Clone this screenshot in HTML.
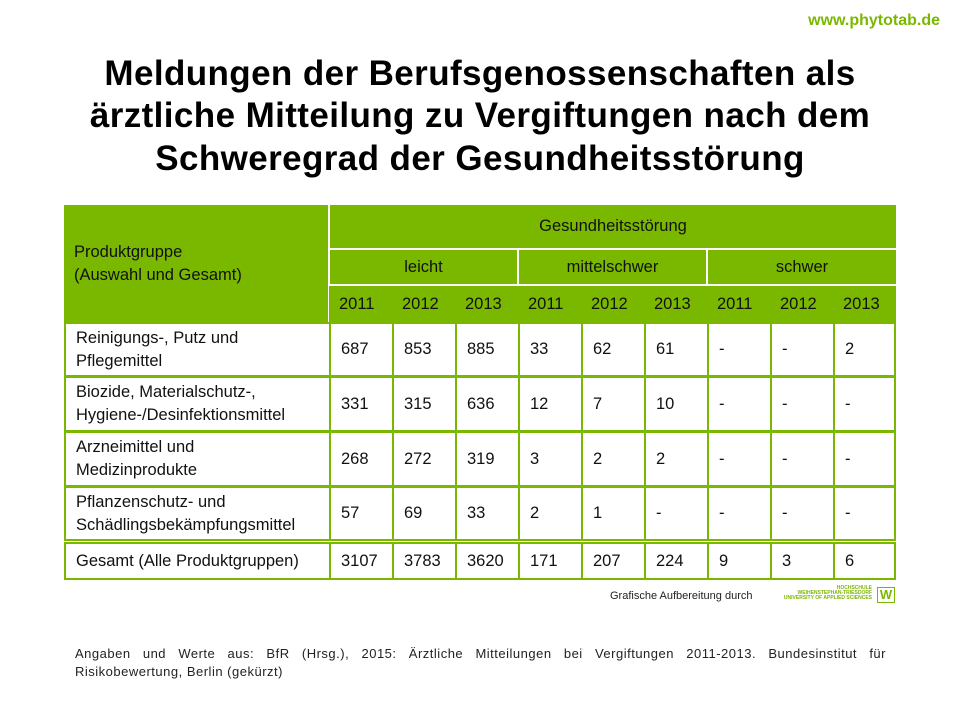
<!DOCTYPE html>
<html><head><meta charset="utf-8"><style>
body{margin:0;width:960px;height:720px;background:#fff;position:relative;font-family:"Liberation Sans",sans-serif;overflow:hidden}
.a{position:absolute}
.t{position:absolute;left:0;width:960px;text-align:center;font-weight:bold;font-size:35px;color:#000;letter-spacing:0.4px}
.c{position:absolute;box-sizing:border-box;font-size:16.5px;color:#111;display:flex;align-items:center;padding-left:10px;line-height:23px}
.b{border:2px solid #7ab800;background:#fff}
.f{font-size:13px;line-height:18px;color:#222;letter-spacing:0.5px}
</style></head><body>
<div class="a" style="right:20px;top:12px;font-size:16px;font-weight:bold;color:#7ab800">www.phytotab.de</div>
<div class="t" style="top:54px">Meldungen der Berufsgenossenschaften als</div>
<div class="t" style="top:96px">ärztliche Mitteilung zu Vergiftungen nach dem</div>
<div class="t" style="top:139px">Schweregrad der Gesundheitsstörung</div>

<div class="a" style="left:64px;top:205px;width:832px;height:117px;background:#7ab800"></div>
<div class="a" style="left:328px;top:205px;width:2px;height:117px;background:#fff"></div>
<div class="a" style="left:330px;top:248px;width:566px;height:2px;background:#fff"></div>
<div class="a" style="left:330px;top:284px;width:566px;height:2px;background:#fff"></div>
<div class="a" style="left:517px;top:250px;width:2px;height:72px;background:#fff"></div>
<div class="a" style="left:706px;top:250px;width:2px;height:72px;background:#fff"></div>
<div class="c" style="left:64px;top:237px;width:264px;height:56px;display:block;padding-top:4px">Produktgruppe<br>(Auswahl und Gesamt)</div>
<div class="c" style="left:330px;top:205px;width:566px;height:43px;justify-content:center;padding:0">Gesundheitsstörung</div>
<div class="c" style="left:330px;top:250px;width:187px;height:34px;justify-content:center;padding:0">leicht</div>
<div class="c" style="left:519px;top:250px;width:187px;height:34px;justify-content:center;padding:0">mittelschwer</div>
<div class="c" style="left:708px;top:250px;width:188px;height:34px;justify-content:center;padding:0">schwer</div>
<div id="yrs"></div>
<div id="body"></div>

<div class="a" style="left:610px;top:590px;font-size:11px;color:#222">Grafische Aufbereitung durch</div>
<div class="a" style="left:782px;top:586px;width:90px;font-size:5px;line-height:5px;color:#7ab800;text-align:right;font-weight:bold">HOCHSCHULE<br>WEIHENSTEPHAN-TRIESDORF<br>UNIVERSITY OF APPLIED SCIENCES</div>
<div class="a" style="left:877px;top:587px;width:16px;height:14px;border:1.5px solid #7ab800;color:#7ab800;font-size:13px;line-height:14px;text-align:center;font-weight:bold">W</div>
<div class="a f" style="left:75px;top:645px;width:811px;text-align:justify;text-align-last:justify">Angaben und Werte aus: BfR (Hrsg.), 2015: Ärztliche Mitteilungen bei Vergiftungen 2011-2013. Bundesinstitut für</div>
<div class="a f" style="left:75px;top:663px">Risikobewertung, Berlin (gekürzt)</div>

<script>
var xs=[329,392,455,518,581,644,707,770,833,896];
var h='';
for(var i=0;i<9;i++)h+='<div class="c" style="left:'+xs[i]+'px;top:286px;width:63px;height:36px;background:#7ab800">20'+(11+i%3)+'</div>';
document.getElementById('yrs').outerHTML=h;
var rows=[["Reinigungs-, Putz und<br>Pflegemittel",322,377,["687","853","885","33","62","61","-","-","2"]],
["Biozide, Materialschutz-,<br>Hygiene-/Desinfektionsmittel",376,432,["331","315","636","12","7","10","-","-","-"]],
["Arzneimittel und<br>Medizinprodukte",431,487,["268","272","319","3","2","2","-","-","-"]],
["Pflanzenschutz- und<br>Schädlingsbekämpfungsmittel",486,541,["57","69","33","2","1","-","-","-","-"]],
["Gesamt (Alle Produktgruppen)",542,580,["3107","3783","3620","171","207","224","9","3","6"]]];
var b='';
rows.forEach(function(r){var t=r[1],hh=r[2]-r[1];
b+='<div class="c b" style="left:64px;top:'+t+'px;width:267px;height:'+hh+'px">'+r[0]+'</div>';
for(var i=0;i<9;i++){var w=xs[i+1]-xs[i]+(i<8?2:0);b+='<div class="c b" style="left:'+xs[i]+'px;top:'+t+'px;width:'+w+'px;height:'+hh+'px">'+r[3][i]+'</div>';}});
document.getElementById('body').outerHTML=b;
</script>
</body></html>
